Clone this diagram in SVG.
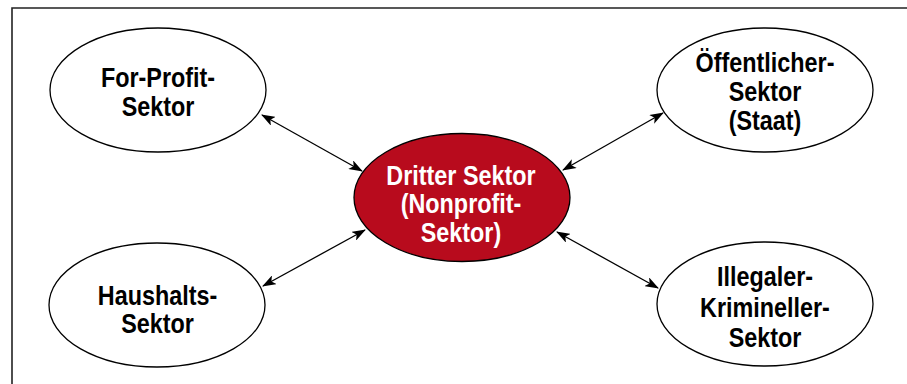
<svg xmlns="http://www.w3.org/2000/svg" width="907" height="384" viewBox="0 0 907 384">
<style>
.node ellipse{fill:#fff;stroke:#000;stroke-width:1.3}
#center ellipse{fill:#b80b1d}
text{font-family:"Liberation Sans",Arial,sans-serif;font-weight:bold;font-size:28.5px;text-anchor:middle;fill:#000}
#center text{fill:#fff}
.conn line{stroke:#000;stroke-width:1.3;marker-start:url(#ah);marker-end:url(#ah)}
</style>
<defs>
<marker id="ah" viewBox="0 0 14 10" refX="13" refY="5" markerWidth="14" markerHeight="10" markerUnits="userSpaceOnUse" orient="auto-start-reverse">
<path d="M0,0 L14,5 L0,10 L3.5,5 Z" fill="#000"/>
</marker>
</defs>
<rect width="907" height="384" fill="#fff"/>
<path d="M12,384 V8 H907" fill="none" stroke="#222" stroke-width="1.6"/>
<g class="conn" id="connectors">
<line x1="262" y1="115" x2="362" y2="171"/>
<line x1="563" y1="170" x2="663" y2="113"/>
<line x1="365" y1="230" x2="263" y2="286"/>
<line x1="557" y1="232" x2="658" y2="288"/>
</g>
<g class="node" id="forprofit">
<ellipse cx="158" cy="90" rx="108" ry="62"/>
<g transform="translate(158,0) scale(0.82,1)">
<text x="0" y="87">For-Profit-</text>
<text x="0" y="116">Sektor</text>
</g>
</g>
<g class="node" id="oeffentlich">
<ellipse cx="765" cy="90" rx="108" ry="62"/>
<g transform="translate(765,0) scale(0.82,1)">
<text x="0" y="72">Öffentlicher-</text>
<text x="0" y="101">Sektor</text>
<text x="0" y="130">(Staat)</text>
</g>
</g>
<g class="node" id="center">
<ellipse cx="462" cy="197.5" rx="108" ry="64"/>
<g transform="translate(461,0) scale(0.82,1)">
<text x="0" y="185">Dritter Sektor</text>
<text x="0" y="213.5">(Nonprofit-</text>
<text x="0" y="242">Sektor)</text>
</g>
</g>
<g class="node" id="haushalt">
<ellipse cx="157" cy="305" rx="108" ry="62"/>
<g transform="translate(157.5,0) scale(0.82,1)">
<text x="0" y="305">Haushalts-</text>
<text x="0" y="333">Sektor</text>
</g>
</g>
<g class="node" id="illegal">
<ellipse cx="765" cy="304" rx="108" ry="62"/>
<g transform="translate(765,0) scale(0.82,1)">
<text x="0" y="286">Illegaler-</text>
<text x="0" y="317">Krimineller-</text>
<text x="0" y="347">Sektor</text>
</g>
</g>
</svg>
